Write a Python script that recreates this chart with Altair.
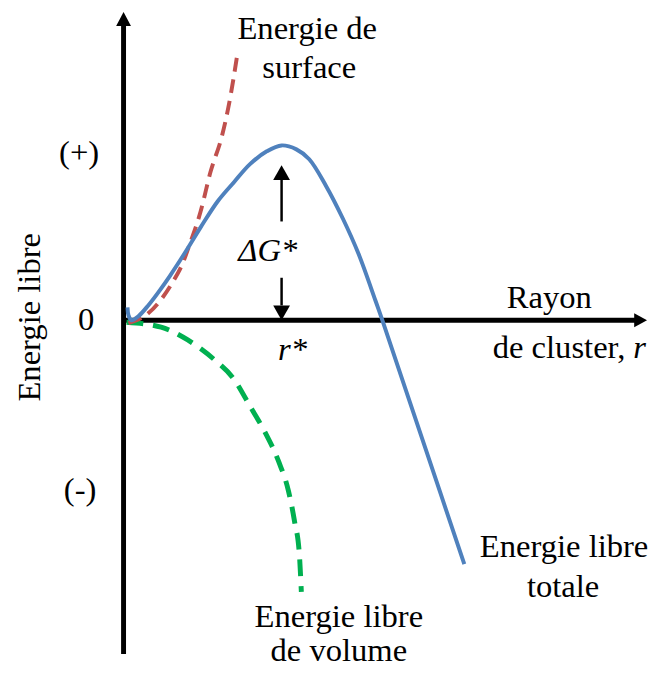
import altair as alt
import pandas as pd

# ---------------- data ----------------
# total free energy (blue, solid)
blue_r = [0.04, 0.05, 0.08, 0.15, 0.25, 0.35, 0.47, 0.62, 0.78, 0.95, 1.12, 1.28, 1.45, 1.60,
          1.75, 1.88, 2.05, 2.22, 2.38, 2.55, 2.62, 3.03, 3.45]
blue_g = [0.13, 0.05, 0.00, 0.04, 0.15, 0.28, 0.45, 0.68, 0.94, 1.20, 1.40, 1.58, 1.71, 1.77,
          1.73, 1.63, 1.36, 1.03, 0.67, 0.20, 0.00, -1.22, -2.47]
# surface energy (red, dashed)
red_r = [0.05, 0.25, 0.38, 0.50, 0.60, 0.67, 0.78, 0.88, 1.00, 1.07, 1.15]
red_g = [-0.03, 0.07, 0.21, 0.39, 0.58, 0.77, 1.10, 1.50, 1.88, 2.20, 2.68]
# volume free energy (green, dashed)
green_r = [0.03, 0.38, 0.65, 0.92, 1.12, 1.28, 1.43, 1.57, 1.67, 1.73, 1.78, 1.80]
green_g = [-0.02, -0.07, -0.20, -0.40, -0.60, -0.87, -1.13, -1.43, -1.73, -2.03, -2.37, -2.75]

# critical radius / barrier
r_star = 1.60
g_star = 1.77

# labels
plain_text = ["Energie de", "surface", "Rayon", "Energie libre", "totale",
              "Energie libre", "de volume", "(+)", "0", "(-)"]
plain_r = [1.86, 1.88, 4.31, 4.46, 4.45, 2.18, 2.18, -0.45, -0.38, -0.44]
plain_g = [2.85, 2.45, 0.12, -2.40, -2.80, -3.11, -3.45, 1.59, -0.10, -1.82]

italic_text = ["\u0394G*", "r*"]
italic_r = [1.46, 1.71]
italic_g = [0.60, -0.40]

cluster_text = ["de cluster,"]
cluster_r = [5.08]
cluster_g = [-0.38]
cluster_var = ["r"]
cluster_var_r = [5.16]

# ---------------- scales ----------------
W, H = 649, 661
X_DOMAIN = [-1.17, 5.32]
Y_DOMAIN = [-3.49, 3.12]
FONT = "Liberation Serif, Times New Roman, serif"
FS = 33


def xq(field="r"):
    return alt.X(f"{field}:Q", scale=alt.Scale(domain=X_DOMAIN, nice=False, zero=False), axis=None)


def yq(field="g"):
    return alt.Y(f"{field}:Q", scale=alt.Scale(domain=Y_DOMAIN, nice=False, zero=False), axis=None)


def curve(rs, gs):
    return pd.DataFrame({"r": rs, "g": gs, "i": list(range(len(rs)))})


# ---------------- axes (arrows) ----------------
v_axis = pd.DataFrame({"r": [0.0], "g": [-3.38], "g2": [3.00]})
h_axis = pd.DataFrame({"r": [0.0], "r2": [5.20], "g": [0.0]})

axis_v = alt.Chart(v_axis).mark_rule(color="black", strokeWidth=5).encode(
    x=xq(), y=yq(), y2="g2:Q")
axis_h = alt.Chart(h_axis).mark_rule(color="black", strokeWidth=5).encode(
    x=xq(), x2="r2:Q", y=yq())

head_up = alt.Chart(pd.DataFrame({"r": [0.0], "g": [3.05]})).mark_point(
    shape="M-1,0.93L0,-0.93L1,0.93Z", size=225, filled=True, color="black", opacity=1,
    strokeWidth=0).encode(x=xq(), y=yq())
head_right = alt.Chart(pd.DataFrame({"r": [5.235], "g": [0.0]})).mark_point(
    shape="M-0.93,-1L0.93,0L-0.93,1Z", size=196, filled=True, color="black", opacity=1,
    strokeWidth=0).encode(x=xq(), y=yq())

# ---------------- curves ----------------
green = alt.Chart(curve(green_r, green_g)).mark_line(
    color="#00B050", strokeWidth=5, strokeDash=[17, 10], interpolate="monotone").encode(
    x=xq(), y=yq(), order="i:Q")
red = alt.Chart(curve(red_r, red_g)).mark_line(
    color="#C0504D", strokeWidth=4, strokeDash=[14, 8], interpolate="monotone").encode(
    x=xq(), y=yq(), order="i:Q")
blue = alt.Chart(curve(blue_r, blue_g)).mark_line(
    color="#4F81BD", strokeWidth=4, interpolate="catmull-rom").encode(
    x=xq(), y=yq(), order="i:Q")

# ---------------- ΔG* double arrow ----------------
shafts = pd.DataFrame({"r": [r_star, r_star], "g": [1.00, 0.43], "g2": [1.43, 0.15]})
arrow_shafts = alt.Chart(shafts).mark_rule(color="black", strokeWidth=2.5).encode(
    x=xq(), y=yq(), y2="g2:Q")
arrow_up = alt.Chart(pd.DataFrame({"r": [r_star], "g": [1.495]})).mark_point(
    shape="M-1,0.88L0,-0.88L1,0.88Z", size=289, filled=True, color="black", opacity=1,
    strokeWidth=0).encode(x=xq(), y=yq())
arrow_down = alt.Chart(pd.DataFrame({"r": [r_star], "g": [0.075]})).mark_point(
    shape="M-1,-0.88L0,0.88L1,-0.88Z", size=289, filled=True, color="black", opacity=1,
    strokeWidth=0).encode(x=xq(), y=yq())

# ---------------- text ----------------
plain = alt.Chart(pd.DataFrame({"t": plain_text, "r": plain_r, "g": plain_g})).mark_text(
    font=FONT, fontSize=FS, color="black", align="center", baseline="alphabetic").encode(
    x=xq(), y=yq(), text="t:N")
cluster = alt.Chart(pd.DataFrame({"t": cluster_text, "r": cluster_r, "g": cluster_g})).mark_text(
    font=FONT, fontSize=FS, color="black", align="right", baseline="alphabetic").encode(
    x=xq(), y=yq(), text="t:N")
cluster_italic = alt.Chart(pd.DataFrame({"t": cluster_var, "r": cluster_var_r,
                                         "g": cluster_g})).mark_text(
    font=FONT, fontSize=FS, fontStyle="italic", color="black", align="left",
    baseline="alphabetic").encode(x=xq(), y=yq(), text="t:N")
italic = alt.Chart(pd.DataFrame({"t": italic_text, "r": italic_r, "g": italic_g})).mark_text(
    font=FONT, fontSize=FS, fontStyle="italic", color="black", align="center",
    baseline="alphabetic").encode(x=xq(), y=yq(), text="t:N")

ylabel = alt.Chart(pd.DataFrame({"t": ["Energie libre"], "r": [-0.95], "g": [0.03]})).mark_text(
    font=FONT, fontSize=FS, color="black", align="center", baseline="middle", angle=270).encode(
    x=xq(), y=yq(), text="t:N")

chart = alt.layer(
    axis_v, axis_h, head_up, head_right,
    green, red, blue,
    arrow_shafts, arrow_up, arrow_down,
    plain, cluster, cluster_italic, italic, ylabel,
).properties(
    width=W, height=H, padding=0, autosize=alt.AutoSizeParams(type="none"), background="white"
).configure_view(stroke=None)

chart.save("out.html", embed_options={"renderer": "svg", "actions": False})
